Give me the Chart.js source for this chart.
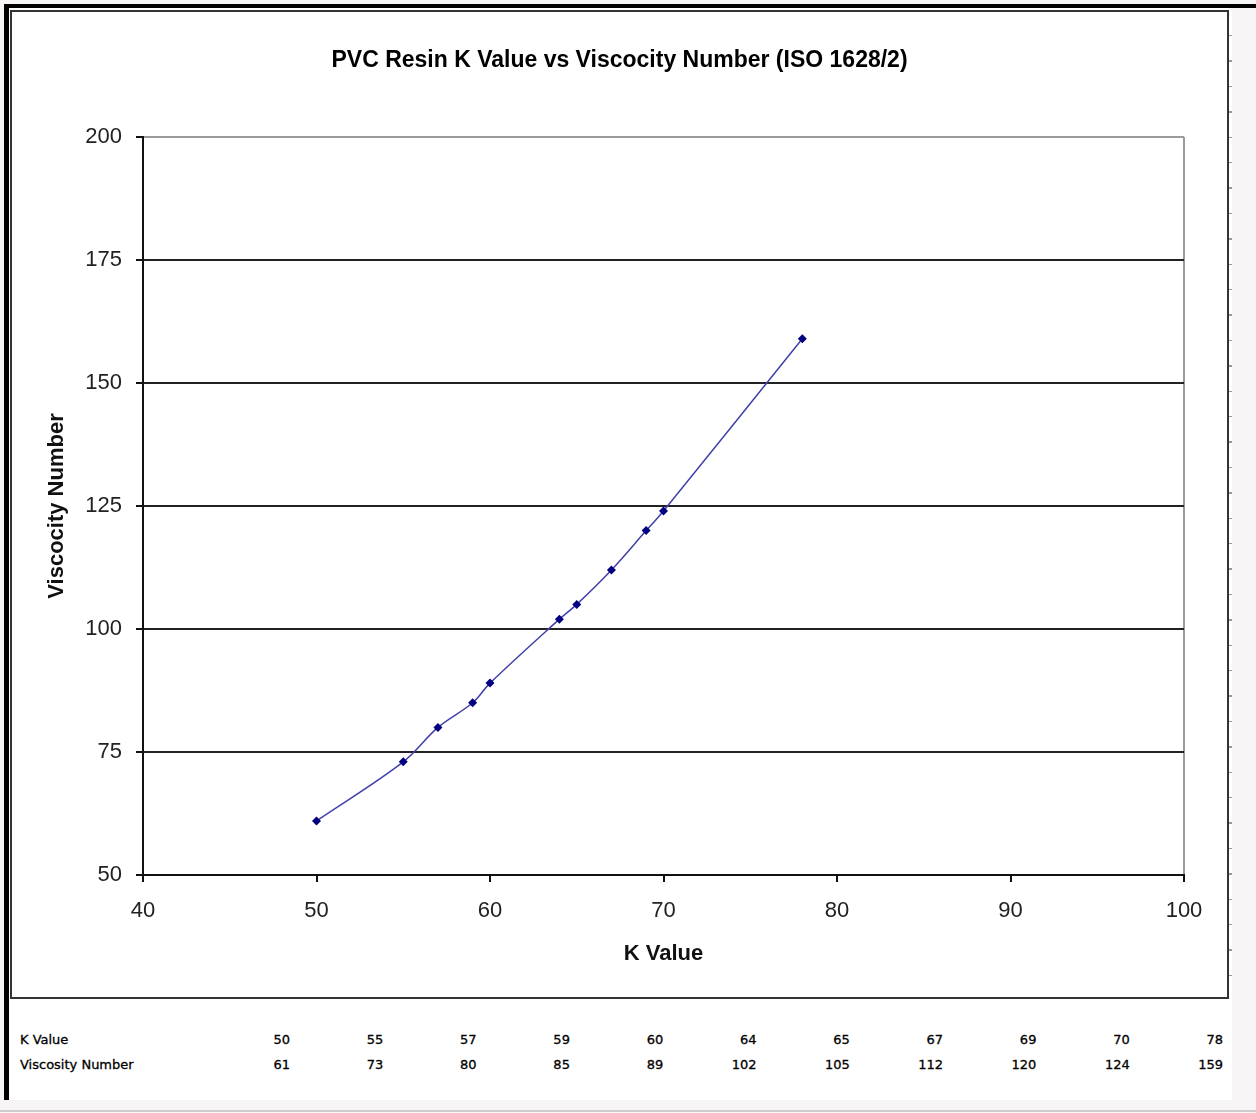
<!DOCTYPE html>
<html>
<head>
<meta charset="utf-8">
<script src="https://cdn.jsdelivr.net/npm/chart.js@4.4.1/dist/chart.umd.min.js"></script>
<style>
  html, body { margin: 0; padding: 0; }
  body { width: 1256px; height: 1113px; background: #f7f5f5; position: relative; overflow: hidden; font-family: "Liberation Sans", Arial, sans-serif; }
  .sheet { position: absolute; left: 4px; top: 4px; width: 1228px; height: 1096px; background: #fff; border-left: 5px solid #000; border-top: 4px solid #000; box-sizing: border-box; }
  .topbar { position: absolute; left: 1232px; top: 4px; width: 24px; height: 4px; background: #000; }
  .bottomline { position: absolute; left: 0; top: 1110px; width: 1256px; height: 2px; background: #d0cccc; }
  .rticks { position: absolute; left: 1229px; top: 11px; width: 3px; height: 988px;
    background: repeating-linear-gradient(to bottom, transparent 0, transparent 24px, #999 24px, #999 25.4px); }
  .box { position: absolute; left: 10px; top: 10px; width: 1219px; height: 989px; border: 2px solid #333; box-sizing: border-box; background: #fff; }
  .box canvas { display: block; }
  .tbl { position: absolute; font-family: "DejaVu Sans", Verdana, sans-serif; font-size: 13px; color: #000; white-space: nowrap; line-height: 16px; -webkit-text-stroke: 0.3px #000; }
</style>
</head>
<body>
<div class="sheet"></div>
<div class="topbar"></div>
<div class="rticks"></div>
<div class="bottomline"></div>
<div class="box"><canvas id="chart" width="1215" height="985"></canvas></div>
<div id="table"></div>
<script>
// data
const kValues = [50, 55, 57, 59, 60, 64, 65, 67, 69, 70, 78];
const viscosity = [61, 73, 80, 85, 89, 102, 105, 112, 120, 124, 159];
const rowLabels = ['K Value', 'Viscosity Number'];
const chartTitle = 'PVC Resin K Value vs Viscocity Number (ISO 1628/2)';

const points = kValues.map((k, i) => ({ x: k, y: viscosity[i] }));

const tickFont = { family: '"Liberation Sans", Arial, sans-serif', size: 22 };

// title centred on the whole chart box (Excel style), not over the padded area
const boxTitle = {
  id: 'boxTitle',
  afterDraw(chart) {
    const ctx = chart.ctx;
    ctx.save();
    ctx.font = 'bold 23px "Liberation Sans", Arial, sans-serif';
    ctx.fillStyle = '#000';
    ctx.textAlign = 'center';
    ctx.textBaseline = 'middle';
    ctx.fillText(chartTitle, chart.width / 2, 49);
    ctx.restore();
  }
};

new Chart(document.getElementById('chart'), {
  type: 'scatter',
  data: {
    datasets: [{
      data: points,
      showLine: true,
      borderColor: '#4040aa',
      borderWidth: 1.5,
      tension: 0.35,
      pointStyle: 'rectRot',
      pointRadius: 4.5,
      pointBackgroundColor: '#000080',
      pointBorderColor: '#000080',
      pointBorderWidth: 0
    }]
  },
  options: {
    responsive: false,
    animation: false,
    devicePixelRatio: 1,
    layout: { padding: { top: 125, left: 0, right: 43, bottom: 0 } },
    plugins: {
      legend: { display: false },
      tooltip: { enabled: false },
      title: { display: false }
    },
    scales: {
      x: {
        type: 'linear',
        min: 40, max: 100,
        ticks: { stepSize: 10, color: '#222', font: tickFont, padding: 16, maxRotation: 0 },
        grid: {
          color: ctx => ctx.tick && ctx.tick.value === 100 ? '#9a9a9a' : 'transparent',
          tickColor: '#111',
          tickLength: 7,
          lineWidth: 2
        },
        border: { display: true, color: '#111', width: 2 },
        title: {
          display: true,
          text: 'K Value',
          color: '#111',
          font: { family: '"Liberation Sans", Arial, sans-serif', size: 22, weight: 'bold' },
          padding: { top: 0, bottom: 30 }
        },
        afterFit: s => { s.height = 122; }
      },
      y: {
        type: 'linear',
        min: 50, max: 200,
        ticks: { stepSize: 25, color: '#222', font: tickFont, padding: 14 },
        grid: {
          color: ctx => ctx.tick && ctx.tick.value === 200 ? '#9a9a9a' : '#222',
          tickColor: '#111',
          tickLength: 7,
          lineWidth: 2
        },
        border: { display: true, color: '#111', width: 2 },
        title: {
          display: true,
          text: 'Viscocity Number',
          color: '#111',
          font: { family: '"Liberation Sans", Arial, sans-serif', size: 22, weight: 'bold' },
          padding: { top: 32, bottom: 0 }
        },
        afterFit: s => { s.width = 131; }
      }
    }
  },
  plugins: [boxTitle]
});

// data table under the chart
const table = document.getElementById('table');
const rows = [kValues, viscosity];
rows.forEach((vals, r) => {
  const top = 1032 + r * 25;
  const lab = document.createElement('div');
  lab.className = 'tbl';
  lab.style.left = '20px';
  lab.style.top = top + 'px';
  lab.textContent = rowLabels[r];
  table.appendChild(lab);
  vals.forEach((v, i) => {
    const d = document.createElement('div');
    d.className = 'tbl';
    d.style.right = (1256 - (290 + i * 93.3)) + 'px';
    d.style.top = top + 'px';
    d.textContent = v;
    table.appendChild(d);
  });
});
</script>
</body>
</html>
